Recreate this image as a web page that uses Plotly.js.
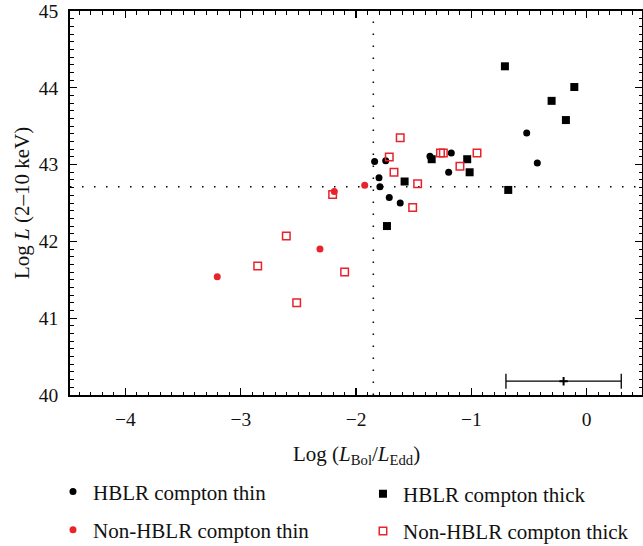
<!DOCTYPE html>
<html>
<head>
<meta charset="utf-8">
<script src="https://cdn.plot.ly/plotly-3.0.1.min.js"></script>
<style>
  html, body { margin: 0; padding: 0; background: #fff; }
  #chart { width: 643px; height: 546px; }
</style>
</head>
<body>
<div id="chart"></div>
<script>
// Log(L_Bol/L_Edd) vs Log L(2-10 keV) for the four source classes
const hblrThinX = [-1.839, -1.743, -1.801, -1.793, -1.712, -1.617, -1.359, -1.174, -1.197, -0.520, -0.428];
const hblrThinY = [43.04, 43.05, 42.83, 42.71, 42.57, 42.50, 43.11, 43.15, 42.90, 43.41, 43.02];

const hblrThickX = [-0.709, -0.107, -0.304, -0.180, -1.344, -1.036, -1.015, -1.579, -0.680, -1.732];
const hblrThickY = [44.28, 44.01, 43.83, 43.58, 43.07, 43.07, 42.90, 42.78, 42.67, 42.20];

const nonThinX = [-1.925, -2.189, -2.313, -3.204];
const nonThinY = [42.73, 42.65, 41.90, 41.54];

const nonThickX = [-1.617, -1.712, -1.671, -1.466, -1.509, -1.268, -1.243, -1.099, -0.951, -2.203, -2.605, -2.853, -2.099, -2.515];
const nonThickY = [43.35, 43.10, 42.90, 42.75, 42.44, 43.15, 43.15, 42.98, 43.15, 42.61, 42.07, 41.68, 41.60, 41.20];

// typical uncertainty shown in the lower right corner
const errX = [-0.2];
const errY = [40.18];
const errHalfWidth = [0.5];

// dividing lines
const eddRatioCut = -1.85;
const lumCut = 42.71;

const xTitle = 'Log (<i>L</i><sub>Bol</sub>/<i>L</i><sub>Edd</sub>)';
const yTitle = 'Log <i>L</i> (2–10 keV)';

const RED = '#e8232b';
const FONT = 'Liberation Serif, Times New Roman, serif';

const traces = [
  {
    x: hblrThinX, y: hblrThinY, mode: 'markers', type: 'scatter',
    name: 'HBLR compton thin', legend: 'legend',
    marker: { symbol: 'circle', size: 7, color: '#000' }
  },
  {
    x: hblrThickX, y: hblrThickY, mode: 'markers', type: 'scatter',
    name: 'HBLR compton thick', legend: 'legend2',
    marker: { symbol: 'square', size: 8, color: '#000' }
  },
  {
    x: nonThinX, y: nonThinY, mode: 'markers', type: 'scatter',
    name: 'Non-HBLR compton thin', legend: 'legend3',
    marker: { symbol: 'circle', size: 7, color: RED }
  },
  {
    x: nonThickX, y: nonThickY, mode: 'markers', type: 'scatter',
    name: 'Non-HBLR compton thick', legend: 'legend4',
    marker: { symbol: 'square-open', size: 7.5, color: RED, line: { width: 1.5, color: RED } }
  },
  {
    x: errX, y: errY, mode: 'markers', type: 'scatter', showlegend: false,
    marker: { symbol: 'cross-thin', size: 6, color: '#000', line: { width: 2, color: '#000' } },
    error_x: { type: 'data', array: errHalfWidth, visible: true, color: '#000', thickness: 1.3, width: 7.5 }
  }
];

const axisCommon = {
  showgrid: false, zeroline: false,
  showline: true, linecolor: '#000', linewidth: 1.8,
  mirror: 'allticks', ticks: 'inside', ticklen: 7, tickwidth: 1.3, tickcolor: '#000',
  tickfont: { family: FONT, size: 19.5, color: '#111' },
  dtick: 1, automargin: false,
  minor: { dtick: 0.1, ticks: 'inside', ticklen: 3.5, tickwidth: 1, tickcolor: '#000', showgrid: false }
};

// one legend box per entry, arranged as a 2 x 2 grid under the plot
function legendBox(x, y) {
  return {
    xref: 'container', yref: 'container',
    x: x, y: y, xanchor: 'left', yanchor: 'middle',
    font: { family: FONT, size: 21, color: '#111' },
    bgcolor: 'rgba(0,0,0,0)', borderwidth: 0
  };
}

const titleFont = { family: FONT, size: 21, color: '#111' };

const layout = {
  width: 643, height: 546,
  margin: { l: 70, r: 1, t: 11, b: 151, autoexpand: false },
  paper_bgcolor: '#fff', plot_bgcolor: '#fff',
  font: { family: FONT, color: '#111' },
  xaxis: Object.assign({}, axisCommon, {
    range: [-4.481, 0.48], tick0: 0,
    ticklabelstandoff: 6
  }),
  yaxis: Object.assign({}, axisCommon, {
    range: [40, 45], tick0: 40,
    ticklabelstandoff: 6
  }),
  // axis titles placed below / left of the frame
  annotations: [
    { text: xTitle, xref: 'paper', yref: 'paper', x: 0.5, y: -0.156,
      xanchor: 'center', yanchor: 'middle', showarrow: false, font: titleFont },
    { text: yTitle, xref: 'paper', yref: 'paper', x: -0.0839, y: 0.5, textangle: -90,
      xanchor: 'center', yanchor: 'middle', showarrow: false, font: titleFont }
  ],
  shapes: [
    { type: 'line', xref: 'x', yref: 'paper', x0: eddRatioCut, x1: eddRatioCut, y0: 0, y1: 1,
      line: { color: '#000', width: 1.5, dash: '1.5px,10.5px' }, layer: 'below' },
    { type: 'line', xref: 'paper', yref: 'y', x0: 0, x1: 1, y0: lumCut, y1: lumCut,
      line: { color: '#000', width: 1.5, dash: '1.5px,10.5px' }, layer: 'below' }
  ],
  legend: legendBox(0.0824, 0.099),
  legend2: legendBox(0.5645, 0.095),
  legend3: legendBox(0.0824, 0.029),
  legend4: legendBox(0.5645, 0.027)
};

Plotly.newPlot('chart', traces, layout, { displayModeBar: false, staticPlot: true });
</script>
</body>
</html>
